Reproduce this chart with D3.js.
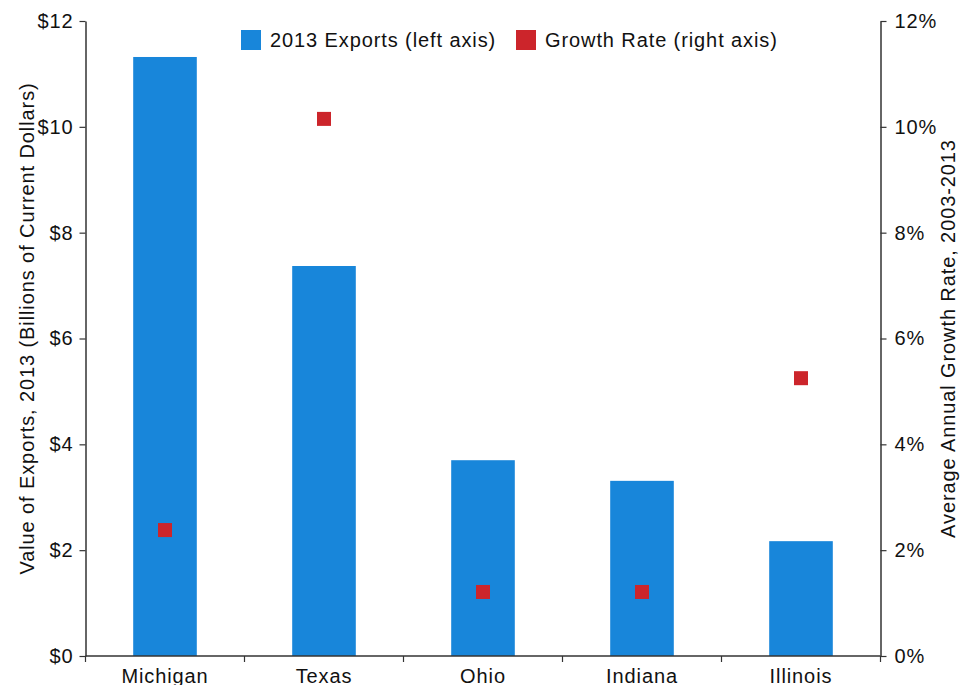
<!DOCTYPE html>
<html>
<head>
<meta charset="utf-8">
<script src="https://cdn.jsdelivr.net/npm/d3@7/dist/d3.min.js"></script>
<style>
  html, body { margin: 0; padding: 0; background: #fff; }
  svg { display: block; font-family: "Liberation Sans", Arial, sans-serif; }
  .lbl { letter-spacing: 0.9px; }
</style>
</head>
<body>
<svg id="chart" width="972" height="685"></svg>
<script>
// State export values and growth rates
const states = ["Michigan", "Texas", "Ohio", "Indiana", "Illinois"];
const exports2013 = [11.32, 7.37, 3.70, 3.31, 2.17];      // billions of current dollars
const growthRate = [2.38, 10.15, 1.21, 1.21, 5.25];        // percent, 2003-2013 average
const leftTicks = [0, 2, 4, 6, 8, 10, 12];
const rightTicks = [0, 2, 4, 6, 8, 10, 12];

const svg = d3.select("#chart");
const m = { left: 85.5, right: 880.5, top: 21, bottom: 656 };
const blue = "#1886da", red = "#cc252b", axisColor = "#333";
const fs = 20;

const x = d3.scaleBand().domain(states).range([m.left, m.right]).padding(0);
const yL = d3.scaleLinear().domain([0, 12]).range([m.bottom, m.top]);
const yR = d3.scaleLinear().domain([0, 12]).range([m.bottom, m.top]);
const barW = x.bandwidth() * 0.4;
const markerSize = 14;

// Bars
svg.append("g").selectAll("rect").data(states).join("rect")
  .attr("x", (d) => x(d) + x.bandwidth() / 2 - barW / 2)
  .attr("y", (d, i) => yL(exports2013[i]))
  .attr("width", barW)
  .attr("height", (d, i) => yL(0) - yL(exports2013[i]))
  .attr("fill", blue);

// Growth-rate markers
svg.append("g").selectAll("rect").data(states).join("rect")
  .attr("x", (d) => x(d) + x.bandwidth() / 2 - markerSize / 2)
  .attr("y", (d, i) => yR(growthRate[i]) - markerSize / 2)
  .attr("width", markerSize)
  .attr("height", markerSize)
  .attr("fill", red);

// Axes
const styleAxis = (g) => {
  g.selectAll(".domain").attr("stroke", axisColor).attr("stroke-width", 1.5);
  g.selectAll(".tick line").attr("stroke", axisColor).attr("stroke-width", 1.2);
  g.selectAll(".tick text").attr("fill", "#111").attr("font-size", fs).attr("class", "lbl");
};

svg.append("g")
  .attr("transform", `translate(${m.left},0)`)
  .call(d3.axisLeft(yL).tickValues(leftTicks).tickFormat((d) => "$" + d).tickSize(6).tickSizeOuter(0).tickPadding(6))
  .call(styleAxis);

svg.append("g")
  .attr("transform", `translate(${m.right},0)`)
  .call(d3.axisRight(yR).tickValues(rightTicks).tickFormat((d) => d + "%").tickSize(6).tickSizeOuter(0).tickPadding(8))
  .call(styleAxis);

// Category axis: ticks sit on the band boundaries
const xAxis = svg.append("g").attr("transform", `translate(0,${m.bottom})`);
xAxis.append("line")
  .attr("x1", m.left).attr("x2", m.right)
  .attr("stroke", axisColor).attr("stroke-width", 1.5);
const bounds = states.map((d) => x(d)).concat([m.right]);
xAxis.selectAll("line.tk").data(bounds).join("line")
  .attr("class", "tk")
  .attr("x1", (d) => d).attr("x2", (d) => d)
  .attr("y1", 0).attr("y2", 6)
  .attr("stroke", axisColor).attr("stroke-width", 1.2);
xAxis.selectAll("text").data(states).join("text")
  .attr("class", "lbl")
  .attr("x", (d) => x(d) + x.bandwidth() / 2)
  .attr("y", 26.5)
  .attr("text-anchor", "middle")
  .attr("font-size", fs)
  .attr("fill", "#111")
  .text((d) => d);

// Axis titles
svg.append("text")
  .attr("class", "lbl")
  .attr("transform", `translate(34,${(m.top + m.bottom) / 2 - 10}) rotate(-90)`)
  .attr("text-anchor", "middle")
  .attr("font-size", fs)
  .attr("fill", "#111")
  .text("Value of Exports, 2013 (Billions of Current Dollars)");

svg.append("text")
  .attr("class", "lbl")
  .attr("transform", `translate(955,${(m.top + m.bottom) / 2}) rotate(-90)`)
  .attr("text-anchor", "middle")
  .attr("font-size", fs)
  .attr("fill", "#111")
  .text("Average Annual Growth Rate, 2003-2013");

// Legend
const legendItems = [
  { label: "2013 Exports (left axis)", color: blue, x: 241 },
  { label: "Growth Rate (right axis)", color: red, x: 516 }
];
const lg = svg.append("g").selectAll("g").data(legendItems).join("g")
  .attr("transform", (d) => `translate(${d.x},30)`);
lg.append("rect").attr("width", 20).attr("height", 20).attr("fill", (d) => d.color);
lg.append("text")
  .attr("class", "lbl")
  .attr("x", 29).attr("y", 17)
  .attr("font-size", fs)
  .attr("fill", "#111")
  .text((d) => d.label);
</script>
</body>
</html>
